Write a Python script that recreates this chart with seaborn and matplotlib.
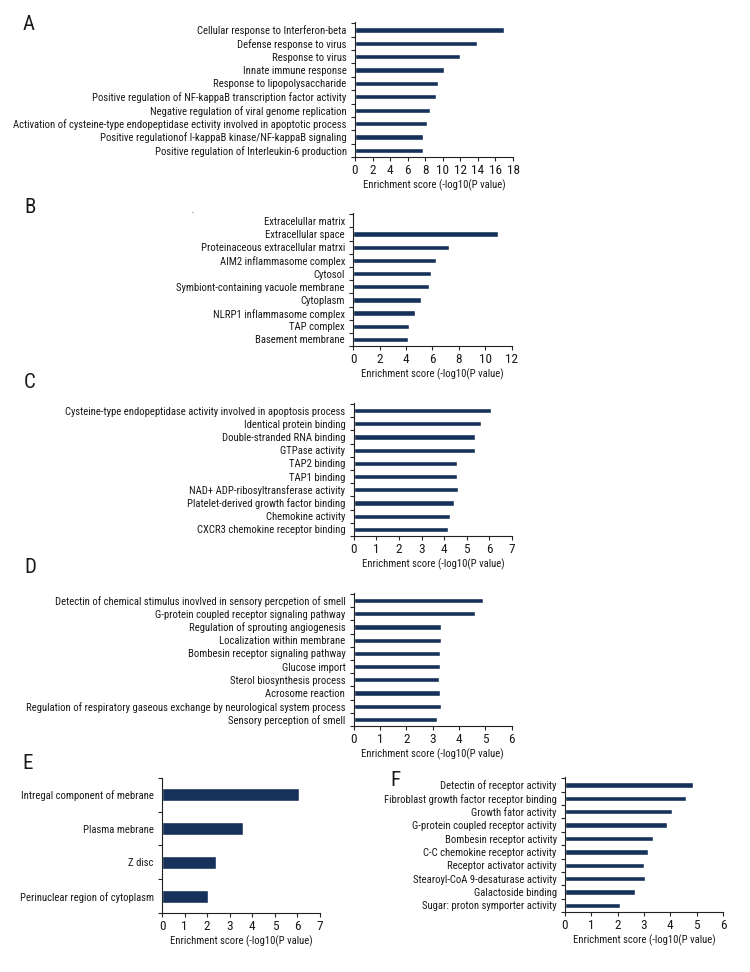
import matplotlib
matplotlib.use('Agg')
import matplotlib.pyplot as plt
import seaborn as sns
import pandas as pd
import numpy as np

# GO enrichment data
a_terms = ['Cellular response to Interferon-beta', 'Defense response to virus', 'Response to virus',
           'Innate immune response', 'Response to lipopolysaccharide',
           'Positive regulation of NF-kappaB transcription factor activity',
           'Negative regulation of viral genome replication',
           'Activation of cysteine-type endopeptidase ectivity involved in apoptotic process',
           'Positive regulationof I-kappaB kinase/NF-kappaB signaling',
           'Positive regulation of Interleukin-6 production']
a_scores = [17.0, 13.95, 11.95, 10.15, 9.45, 9.25, 8.6, 8.2, 7.75, 7.75]

b_terms = ['Extracelullar matrix', 'Extracellular space', 'Proteinaceous extracellular matrxi',
           'AIM2 inflammasome complex', 'Cytosol', 'Symbiont-containing vacuole membrane',
           'Cytoplasm', 'NLRP1 inflammasome complex', 'TAP complex', 'Basement membrane']
b_scores = [0.0, 11.0, 7.25, 6.25, 5.85, 5.7, 5.1, 4.65, 4.2, 4.15]

c_terms = ['Cysteine-type endopeptidase activity involved in apoptosis process',
           'Identical protein binding', 'Double-stranded RNA binding', 'GTPase activity',
           'TAP2 binding', 'TAP1 binding', 'NAD+ ADP-ribosyltransferase activity',
           'Platelet-derived growth factor binding', 'Chemokine activity',
           'CXCR3 chemokine receptor binding']
c_scores = [6.08, 5.61, 5.37, 5.36, 4.58, 4.57, 4.6, 4.45, 4.27, 4.17]

d_terms = ['Detectin of chemical stimulus inovlved in sensory percpetion of smell',
           'G-protein coupled receptor signaling pathway', 'Regulation of sprouting angiogenesis',
           'Localization within membrane', 'Bombesin receptor signaling pathway', 'Glucose import',
           'Sterol biosynthesis process', 'Acrosome reaction',
           'Regulation of respiratory gaseous exchange by neurological system process',
           'Sensory perception of smell']
d_scores = [4.9, 4.61, 3.32, 3.32, 3.28, 3.28, 3.25, 3.28, 3.32, 3.16]

e_terms = ['Intregal component of mebrane', 'Plasma mebrane', 'Z disc',
           'Perinuclear region of cytoplasm']
e_scores = [6.06, 3.59, 2.41, 2.04]

f_terms = ['Detectin of receptor activity', 'Fibroblast growth factor receptor binding',
           'Growth fator activity', 'G-protein coupled receptor activity',
           'Bombesin receptor activity', 'C-C chemokine receptor activity',
           'Receptor activator activity', 'Stearoyl-CoA 9-desaturase activity',
           'Galactoside binding', 'Sugar: proton symporter activity']
f_scores = [4.86, 4.61, 4.08, 3.87, 3.33, 3.15, 3.0, 3.03, 2.65, 2.1]

sns.set_style('ticks')
# narrow fonts first, Liberation Sans as the last resort
plt.rcParams['font.family'] = ['Roboto Condensed', 'Open Sans Condensed', 'PT Sans Narrow',
                               'Archivo Narrow', 'Liberation Sans Narrow', 'Liberation Sans']

bar_color = '#17325a'
text_color = '#1a1a1a'
xlab = 'Enrichment score (-log10(P value)'

fig = plt.figure(figsize=(7.5, 9.72), dpi=100)

# letter, terms, scores, [left, bottom, width, height], xmax, step, letter position, bar width
panels = [
    ('A', a_terms, a_scores, [0.4733, 0.8385, 0.2107, 0.1389], 18, 2, (0.038, 0.975), 0.4),
    ('B', b_terms, b_scores, [0.4711, 0.6440, 0.2111, 0.1369], 12, 2, (0.040, 0.787), 0.4),
    ('C', c_terms, c_scores, [0.4716, 0.4486, 0.2111, 0.1371], 7, 1, (0.040, 0.606), 0.4),
    ('D', d_terms, d_scores, [0.4716, 0.2531, 0.2107, 0.1371], 6, 1, (0.040, 0.416), 0.4),
    ('E', e_terms, e_scores, [0.2160, 0.0607, 0.2107, 0.1389], 7, 1, (0.037, 0.215), 0.38),
    ('F', f_terms, f_scores, [0.7533, 0.0617, 0.2107, 0.1389], 6, 1, (0.527, 0.1975), 0.4),
]

for letter, terms, scores, rect, xmax, step, lpos, bw in panels:
    ax = fig.add_axes(rect)
    df = pd.DataFrame({'term': terms, 'score': scores})
    sns.barplot(data=df, x='score', y='term', orient='h', color=bar_color,
                width=bw, saturation=1, ax=ax)
    n = len(terms)
    if n == 4:
        ax.set_ylim(n - 0.5, -0.5)
    else:
        ax.set_ylim(n - 0.6, -0.6)
    ax.set_xlim(0, xmax)
    ax.set_xticks(np.arange(0, xmax + 1, step))
    ax.set_yticks(np.arange(-0.5, n, 1.0), minor=True)
    ax.tick_params(axis='y', which='major', length=0, pad=6, labelsize=7.7,
                   labelcolor=text_color)
    ax.tick_params(axis='y', which='minor', length=3, width=0.8, direction='out')
    ax.tick_params(axis='x', length=3, width=0.8, pad=2, labelsize=9.5,
                   labelcolor=text_color)
    ax.set_ylabel('')
    ax.set_xlabel(xlab, fontsize=7.7, labelpad=2, color=text_color)
    sns.despine(ax=ax)
    for s in ['left', 'bottom']:
        ax.spines[s].set_linewidth(0.8)
        ax.spines[s].set_color('#222222')
    fig.text(lpos[0], lpos[1], letter, fontsize=15, ha='center', va='center',
             color=text_color)

# stray dash that sits left of panel B in the source figure
fig.text(193 / 750, 1 - 213 / 972, '-', fontsize=6, ha='center', va='center', color='#555555')

fig.savefig('out.png', dpi=100)
